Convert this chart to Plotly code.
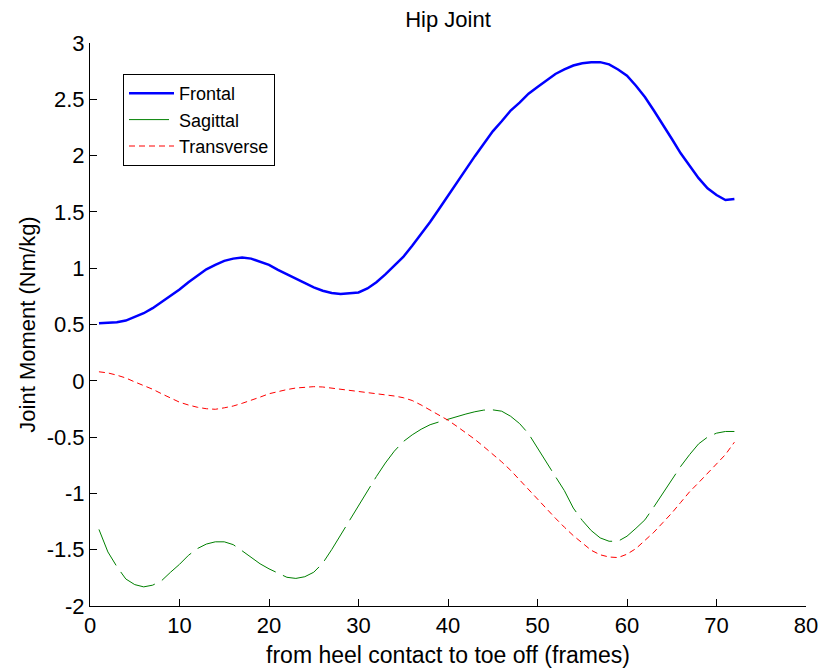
import plotly.graph_objects as go

frames = list(range(1, 73))

frontal = [0.51, 0.515, 0.52, 0.535, 0.565, 0.60, 0.645, 0.70, 0.755, 0.81,
           0.875, 0.93, 0.99, 1.03, 1.065, 1.085, 1.095, 1.085, 1.06, 1.03,
           0.985, 0.945, 0.905, 0.865, 0.83, 0.80, 0.78, 0.77, 0.775, 0.785,
           0.82, 0.875, 0.945, 1.02, 1.10, 1.20, 1.30, 1.41, 1.525, 1.645,
           1.76, 1.875, 1.995, 2.105, 2.215, 2.305, 2.40, 2.47, 2.55, 2.61,
           2.67, 2.725, 2.765, 2.80, 2.82, 2.83, 2.83, 2.81, 2.765, 2.71,
           2.62, 2.52, 2.40, 2.28, 2.15, 2.02, 1.905, 1.80, 1.71, 1.65,
           1.605, 1.615]

sagittal = [-1.32, -1.52, -1.65, -1.76, -1.81, -1.83, -1.815, -1.775, -1.70, -1.63,
            -1.55, -1.49, -1.45, -1.43, -1.43, -1.455, -1.51, -1.57, -1.625, -1.67,
            -1.71, -1.745, -1.755, -1.74, -1.70, -1.62, -1.50, -1.37, -1.24, -1.115,
            -0.975, -0.85, -0.73, -0.625, -0.54, -0.48, -0.43, -0.39, -0.365, -0.34,
            -0.315, -0.295, -0.275, -0.26, -0.258, -0.27, -0.315, -0.38, -0.47, -0.60,
            -0.72, -0.85, -0.975, -1.13, -1.24, -1.33, -1.395, -1.425, -1.425, -1.38,
            -1.31, -1.235, -1.12, -1.00, -0.885, -0.76, -0.655, -0.56, -0.50, -0.465,
            -0.45, -0.45]

transverse = [0.08, 0.07, 0.05, 0.025, -0.01, -0.04, -0.075, -0.115, -0.155, -0.19,
              -0.215, -0.235, -0.248, -0.253, -0.24, -0.224, -0.20, -0.175, -0.145, -0.115,
              -0.095, -0.078, -0.064, -0.055, -0.052, -0.055, -0.065, -0.075, -0.085, -0.095,
              -0.10, -0.11, -0.12, -0.135, -0.15, -0.175, -0.215, -0.26, -0.305, -0.35,
              -0.405, -0.46, -0.52, -0.585, -0.65, -0.72, -0.795, -0.88, -0.97, -1.055,
              -1.14, -1.22, -1.30, -1.375, -1.44, -1.505, -1.545, -1.565, -1.57, -1.54,
              -1.49, -1.42, -1.345, -1.26, -1.175, -1.08, -0.985, -0.905, -0.82, -0.74,
              -0.655, -0.545]

x_ticks = [0, 10, 20, 30, 40, 50, 60, 70, 80]
y_ticks = [-2, -1.5, -1, -0.5, 0, 0.5, 1, 1.5, 2, 2.5, 3]
y_ticktext = ["-2", "-1.5", "-1", "-0.5", "0", "0.5", "1", "1.5", "2", "2.5", "3"]

FONT = "Arial, Liberation Sans, sans-serif"

fig = go.Figure()
fig.add_trace(go.Scatter(x=frames, y=frontal, mode="lines", name="Frontal",
                         line=dict(color="#0000ff", width=2.5)))
fig.add_trace(go.Scatter(x=frames, y=sagittal, mode="lines", name="Sagittal",
                         line=dict(color="#008000", width=1, dash="40px,8px")))
fig.add_trace(go.Scatter(x=frames, y=transverse, mode="lines", name="Transverse",
                         line=dict(color="#ff0000", width=1, dash="6px,4px")))

fig.update_layout(
    width=821, height=668,
    margin=dict(l=90, r=15, t=43, b=62),
    paper_bgcolor="white", plot_bgcolor="white",
    font=dict(family=FONT, size=22, color="black"),
    title=dict(text="Hip Joint", x=448/821, xanchor="center",
               y=1 - 19/668, yanchor="middle", yref="container",
               font=dict(size=22, family=FONT, color="black")),
    showlegend=True,
    legend=dict(x=(123-90)/716, y=(606-74)/563, xanchor="left", yanchor="top",
                bgcolor="white", bordercolor="black", borderwidth=1,
                font=dict(size=18, family=FONT, color="black"),
                itemwidth=45, entrywidth=120, tracegroupgap=0),
    xaxis=dict(range=[0, 80], tickvals=x_ticks, showgrid=False, zeroline=False,
               showline=True, linecolor="black", linewidth=1, mirror=False,
               ticks="inside", ticklen=7, tickcolor="black", automargin=False,
               tickfont=dict(size=22),
               title=dict(text="from heel contact to toe off (frames)", standoff=12,
                          font=dict(size=23))),
    yaxis=dict(range=[-2, 3], tickvals=y_ticks, ticktext=y_ticktext,
               showgrid=False, zeroline=False,
               showline=True, linecolor="black", linewidth=1, mirror=False,
               ticks="inside", ticklen=7, tickcolor="black", automargin=False,
               tickfont=dict(size=22),
               title=dict(text="Joint Moment (Nm/kg)", standoff=4,
                          font=dict(size=22))),
)

fig.write_html("out.html")
